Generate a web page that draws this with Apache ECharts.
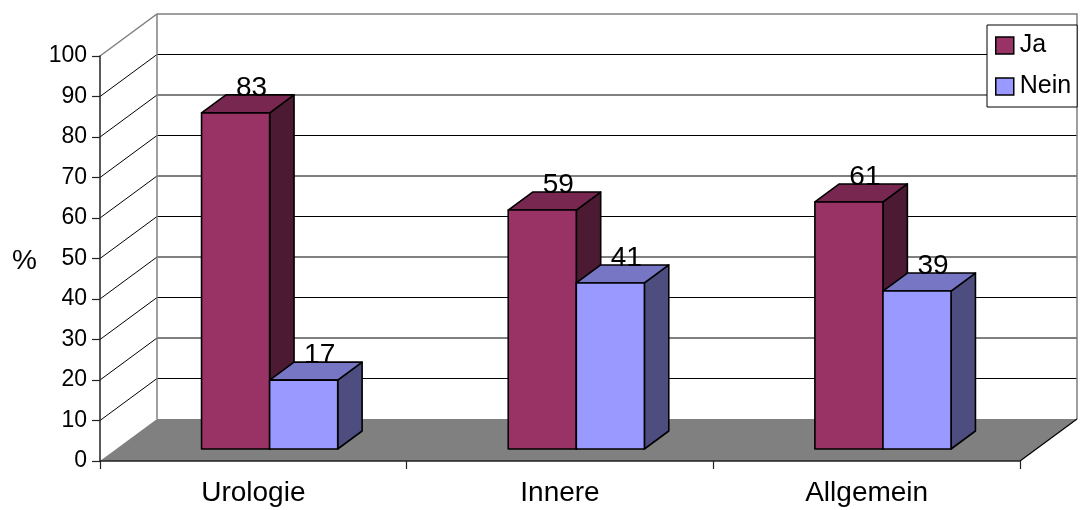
<!DOCTYPE html>
<html>
<head>
<meta charset="utf-8">
<script src="https://cdn.jsdelivr.net/npm/echarts@6/dist/echarts.min.js"></script>
<style>
html, body { margin: 0; padding: 0; background: #fff; }
#chart { width: 1084px; height: 510px; }
</style>
</head>
<body>
<div id="chart"></div>
<script>
var categories = ['Urologie', 'Innere', 'Allgemein'];
var jaValues = [83, 59, 61];
var neinValues = [17, 41, 39];
var yTicks = [0, 10, 20, 30, 40, 50, 60, 70, 80, 90, 100];

var FONT = '"Liberation Sans", Arial, sans-serif';
// 3D depth of the plot box (px) and where the bars sit inside it
var DEPTH_X = 57, DEPTH_Y = 42;
var BAR_FRONT = 0.286, BAR_BACK = 0.714;

var colors = {
    ja: { front: '#993366', top: '#782850', side: '#4d1a33' },
    nein: { front: '#9999ff', top: '#7676c4', side: '#4d4d80' }
};

/* Rueckwand, Seitenwand, Boden und Gitterlinien */
function renderScene(params, api) {
    var cs = params.coordSys;
    var x0 = cs.x, x1 = cs.x + cs.width;
    var yMax = yTicks[yTicks.length - 1];
    var yTop = api.coord([0, yMax])[1];
    var yBot = api.coord([0, 0])[1];
    var children = [];
    yTicks.forEach(function (v) {
        if (v === 0 || v === yMax) return;
        var y = api.coord([0, v])[1];
        children.push({
            type: 'polyline',
            shape: { points: [[x0, y], [x0 + DEPTH_X, y - DEPTH_Y], [x1 + DEPTH_X, y - DEPTH_Y]] },
            style: { stroke: '#000', lineWidth: 1, fill: 'none' }
        });
    });
    children.push({
        type: 'polyline',
        shape: { points: [[x0, yTop], [x0 + DEPTH_X, yTop - DEPTH_Y], [x1 + DEPTH_X, yTop - DEPTH_Y], [x1 + DEPTH_X, yBot - DEPTH_Y]] },
        style: { stroke: '#808080', lineWidth: 1.5, fill: 'none' }
    });
    children.push({
        type: 'line',
        shape: { x1: x0 + DEPTH_X, y1: yTop - DEPTH_Y, x2: x0 + DEPTH_X, y2: yBot - DEPTH_Y },
        style: { stroke: '#808080', lineWidth: 1.5 }
    });
    children.push({
        type: 'polygon',
        shape: { points: [[x0, yBot], [x1, yBot], [x1 + DEPTH_X, yBot - DEPTH_Y], [x0 + DEPTH_X, yBot - DEPTH_Y]] },
        style: { fill: '#808080', stroke: 'none' }
    });
    children.push({
        type: 'line',
        shape: { x1: x1, y1: yBot, x2: x1 + DEPTH_X, y2: yBot - DEPTH_Y },
        style: { stroke: '#000', lineWidth: 1.2 }
    });
    return { type: 'group', children: children };
}

/* 3D-Saeule: Vorderseite, Deckel, rechte Seite, Wert */
function barRenderer(side, col) {
    return function (params, api) {
        var cs = params.coordSys;
        var catW = cs.width / categories.length;
        var barW = catW * 0.222;
        var idx = api.value(0);
        var v = api.value(1);
        var base = api.coord([idx, 0]);
        var topP = api.coord([idx, v]);
        var offX = DEPTH_X * BAR_FRONT, offY = DEPTH_Y * BAR_FRONT;
        var dX = DEPTH_X * (BAR_BACK - BAR_FRONT), dY = DEPTH_Y * (BAR_BACK - BAR_FRONT);
        var fl = base[0] + offX + (side === 0 ? -barW : 0);
        var fr = fl + barW;
        var by = base[1] - offY;
        var ty = topP[1] - offY;
        var stroke = { stroke: '#000', lineWidth: 1.6, lineJoin: 'round' };
        return {
            type: 'group',
            children: [
                { type: 'polygon', shape: { points: [[fr, ty], [fr + dX, ty - dY], [fr + dX, by - dY], [fr, by]] },
                  style: Object.assign({ fill: col.side }, stroke) },
                { type: 'polygon', shape: { points: [[fl, ty], [fr, ty], [fr + dX, ty - dY], [fl + dX, ty - dY]] },
                  style: Object.assign({ fill: col.top }, stroke) },
                { type: 'rect', shape: { x: fl, y: ty, width: barW, height: by - ty },
                  style: Object.assign({ fill: col.front }, stroke) },
                { type: 'text', x: fl + barW / 2 + 16, y: ty - 25,
                  style: { text: String(v), fill: '#000', font: '28px ' + FONT, align: 'center', verticalAlign: 'middle' } }
            ]
        };
    };
}

var chart = echarts.init(document.getElementById('chart'), null, { renderer: 'canvas' });
chart.setOption({
    animation: false,
    backgroundColor: '#fff',
    grid: { left: 100, right: 64, top: 56, bottom: 49 },
    legend: {
        data: ['Ja', 'Nein'],
        orient: 'vertical',
        left: 987,
        top: 25,
        padding: [8, 6, 8, 8],
        itemGap: 16,
        itemWidth: 18,
        itemHeight: 17,
        icon: 'rect',
        backgroundColor: '#fff',
        borderColor: '#000',
        borderWidth: 1,
        borderRadius: 0,
        itemStyle: { borderColor: '#000', borderWidth: 1.5 },
        textStyle: { fontSize: 25, color: '#000', fontFamily: FONT, padding: [0, 0, 0, 1] }
    },
    graphic: [
        { type: 'text', left: 12, top: 247, style: { text: '%', font: '28px ' + FONT, fill: '#000' } }
    ],
    xAxis: {
        type: 'category',
        data: categories,
        z: 10,
        axisLine: { lineStyle: { color: '#222', width: 1.5 } },
        axisTick: { show: true, length: 8, lineStyle: { color: '#222', width: 1.2 } },
        axisLabel: { fontSize: 28, color: '#000', fontFamily: FONT, margin: 18 },
        splitLine: { show: false }
    },
    yAxis: {
        type: 'value',
        min: 0,
        max: 100,
        interval: 10,
        z: 10,
        axisLine: { show: true, lineStyle: { color: '#222', width: 1.5 } },
        axisTick: { show: true, length: 8, lineStyle: { color: '#222', width: 1.2 } },
        axisLabel: { fontSize: 23, color: '#000', fontFamily: FONT, margin: 13 },
        splitLine: { show: false }
    },
    series: [
        {
            type: 'custom',
            name: 'scene',
            z: 1,
            clip: false,
            silent: true,
            encode: { x: 0, y: 1 },
            data: [[0, 0]],
            renderItem: renderScene
        },
        {
            type: 'custom',
            name: 'Ja',
            z: 2,
            clip: false,
            itemStyle: { color: colors.ja.front },
            encode: { x: 0, y: 1 },
            data: jaValues.map(function (v, i) { return [i, v]; }),
            renderItem: barRenderer(0, colors.ja)
        },
        {
            type: 'custom',
            name: 'Nein',
            z: 2,
            clip: false,
            itemStyle: { color: colors.nein.front },
            encode: { x: 0, y: 1 },
            data: neinValues.map(function (v, i) { return [i, v]; }),
            renderItem: barRenderer(1, colors.nein)
        }
    ]
});
</script>
</body>
</html>
